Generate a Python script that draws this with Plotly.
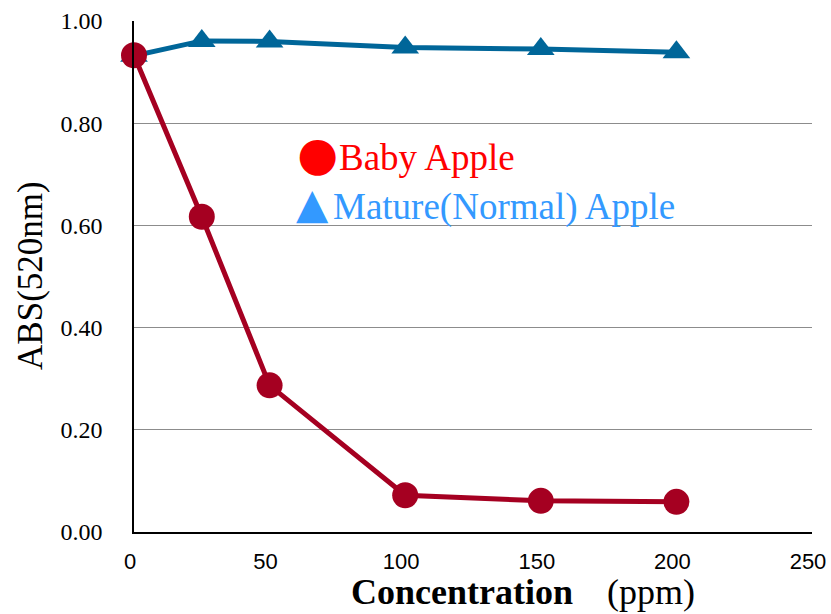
import plotly.graph_objects as go

conc = [0, 25, 50, 100, 150, 200]
baby_abs = [0.933, 0.617, 0.287, 0.072, 0.061, 0.059]
mature_abs = [0.932, 0.961, 0.960, 0.948, 0.945, 0.939]
x_ticks = [0, 50, 100, 150, 200, 250]
y_ticks = [0.0, 0.2, 0.4, 0.6, 0.8, 1.0]

fig = go.Figure()
fig.add_trace(go.Scatter(
    x=conc, y=mature_abs, mode="lines+markers", name="Mature(Normal) Apple",
    line=dict(color="#006699", width=5),
    marker=dict(symbol="triangle-up", size=24, color="#006699"),
    cliponaxis=False, showlegend=False))
fig.add_trace(go.Scatter(
    x=conc, y=baby_abs, mode="lines+markers", name="Baby Apple",
    line=dict(color="#A50021", width=5),
    marker=dict(symbol="circle", size=26, color="#A50021"),
    cliponaxis=False, showlegend=False))

serif = "Liberation Serif, Times New Roman, serif"
fig.update_layout(
    width=831, height=614,
    margin=dict(l=134, r=19, t=21, b=82, autoexpand=False),
    plot_bgcolor="white", paper_bgcolor="white",
    xaxis=dict(range=[0, 250], tickvals=x_ticks, showgrid=False, automargin=False,
               showline=True, linecolor="black", linewidth=1.5,
               ticks="outside", ticklen=9, tickcolor="rgba(0,0,0,0)",
               ticklabelshift=-4,
               tickfont=dict(family="Liberation Sans, Arial, sans-serif", size=22, color="black"),
               zeroline=False),
    yaxis=dict(range=[0, 1.0], tickvals=y_ticks, tickformat=".2f", automargin=False,
               showgrid=True, gridcolor="#8c8c8c", gridwidth=1,
               showline=True, linecolor="black", linewidth=1.5,
               ticks="outside", ticklen=25, tickcolor="rgba(0,0,0,0)",
               tickfont=dict(family=serif, size=24, color="black"),
               zeroline=False),
)

# axis titles
fig.add_annotation(xref="paper", yref="paper", x=0.4845, y=-0.1605, xanchor="center", yanchor="bottom",
                   text="<b>Concentration</b>", showarrow=False,
                   font=dict(family=serif, size=36, color="black"))
fig.add_annotation(xref="paper", yref="paper", x=0.7625, y=-0.1605, xanchor="center", yanchor="bottom",
                   text="(ppm)", showarrow=False,
                   font=dict(family=serif, size=36, color="black"))
fig.add_annotation(xref="paper", yref="paper", x=-0.152, y=0.503, xanchor="center", yanchor="middle",
                   text="ABS(520nm)", textangle=-90, showarrow=False,
                   font=dict(family=serif, size=35, color="black"))

# in-plot legend
fig.add_annotation(xref="paper", yref="paper", x=0.271, y=0.741, xanchor="center", yanchor="middle",
                   text="\u25cf", showarrow=False,
                   font=dict(family="DejaVu Sans", size=47, color="#FF0000"))
fig.add_annotation(xref="paper", yref="paper", x=0.2994, y=0.732, xanchor="left", yanchor="middle",
                   text="Baby Apple", showarrow=False,
                   font=dict(family=serif, size=37, color="#FF0000"))
fig.add_annotation(xref="paper", yref="paper", x=0.263, y=0.642, xanchor="center", yanchor="middle",
                   text="\u25b2", showarrow=False,
                   font=dict(family="DejaVu Sans", size=42, color="#3399FF"))
fig.add_annotation(xref="paper", yref="paper", x=0.2906, y=0.636, xanchor="left", yanchor="middle",
                   text="Mature(Normal) Apple", showarrow=False,
                   font=dict(family=serif, size=37, color="#3399FF"))

fig.write_html("out.html", config={"displayModeBar": False},
               post_script="document.body.style.margin='0';document.body.style.overflow='hidden';")
